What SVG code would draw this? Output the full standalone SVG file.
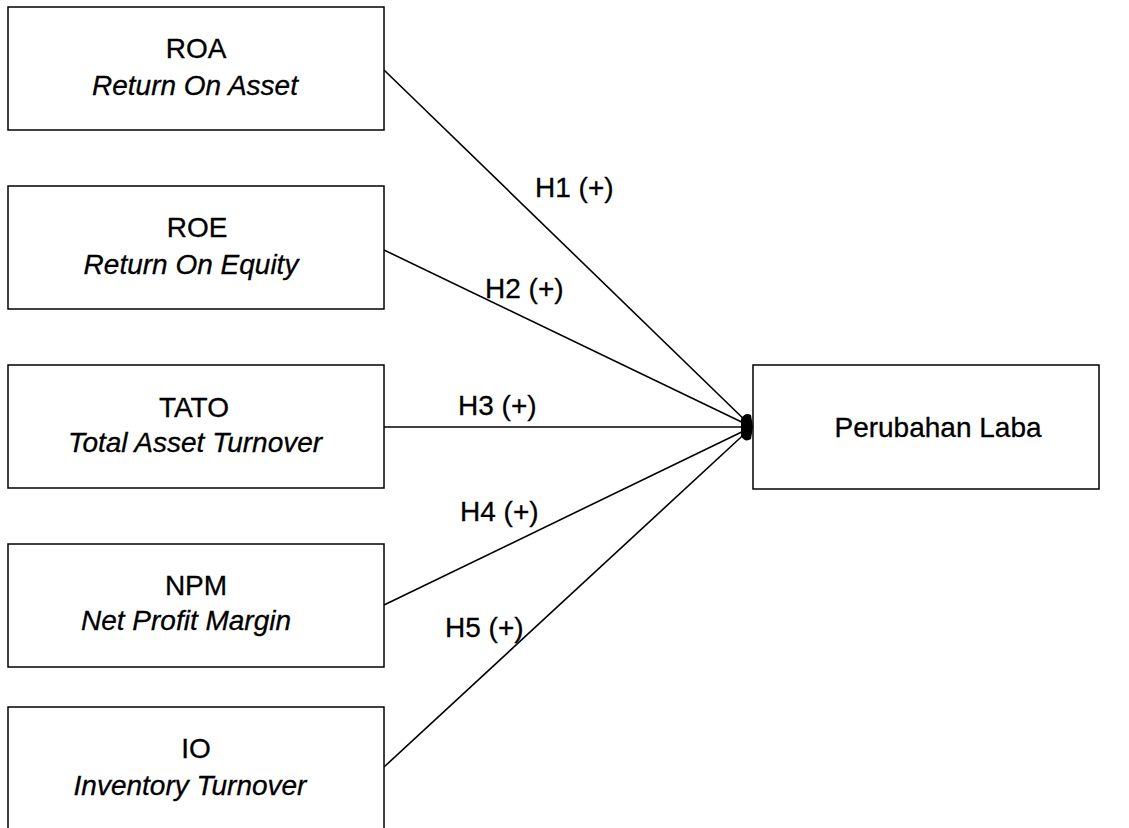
<svg xmlns="http://www.w3.org/2000/svg" width="1129" height="828" viewBox="0 0 1129 828">
<style>
.box{fill:#fff;stroke:#000;stroke-width:1.5}
.t{font-family:"Liberation Sans",Arial,sans-serif;font-size:28px;fill:#000;stroke:#000;stroke-width:0.3;text-anchor:middle}
.i{font-style:italic}
.l{font-family:"Liberation Sans",Arial,sans-serif;font-size:28px;fill:#000;stroke:#000;stroke-width:0.3}
.c{stroke:#000;stroke-width:1.6;fill:none}
</style>
<rect width="1129" height="828" fill="#fff"/>
<g id="connectors">
<line class="c" x1="384" y1="70" x2="752" y2="427"/>
<line class="c" x1="384" y1="250" x2="752" y2="427"/>
<line class="c" x1="384" y1="427" x2="752" y2="427"/>
<line class="c" x1="384" y1="605" x2="752" y2="427"/>
<line class="c" x1="384" y1="767" x2="752" y2="427"/>
<path d="M741 419 Q745 412 751 415 L753 427 L751 439 Q745 443 741 436 Z" fill="#000"/>
<text class="l" x="535" y="197">H1 (+)</text>
<text class="l" x="485" y="298">H2 (+)</text>
<text class="l" x="458" y="415">H3 (+)</text>
<text class="l" x="460" y="521">H4 (+)</text>
<text class="l" x="445" y="637">H5 (+)</text>
</g>
<g id="roa">
<rect class="box" x="8" y="7" width="376" height="123"/>
<text class="t" x="196" y="58">ROA</text>
<text class="t i" x="195" y="95">Return On Asset</text>
</g>
<g id="roe">
<rect class="box" x="8" y="186" width="376" height="123"/>
<text class="t" x="197" y="237">ROE</text>
<text class="t i" x="191" y="274">Return On Equity</text>
</g>
<g id="tato">
<rect class="box" x="8" y="365" width="376" height="123"/>
<text class="t" x="194" y="417">TATO</text>
<text class="t i" x="195" y="452">Total Asset Turnover</text>
</g>
<g id="npm">
<rect class="box" x="8" y="544" width="376" height="123"/>
<text class="t" x="196" y="595">NPM</text>
<text class="t i" x="186" y="630">Net Profit Margin</text>
</g>
<g id="io">
<rect class="box" x="8" y="707" width="376" height="140"/>
<text class="t" x="196" y="758">IO</text>
<text class="t i" x="190" y="795">Inventory Turnover</text>
</g>
<g id="perubahan">
<rect class="box" x="753" y="365" width="346" height="124"/>
<text class="t" x="938" y="437">Perubahan Laba</text>
</g>
</svg>
